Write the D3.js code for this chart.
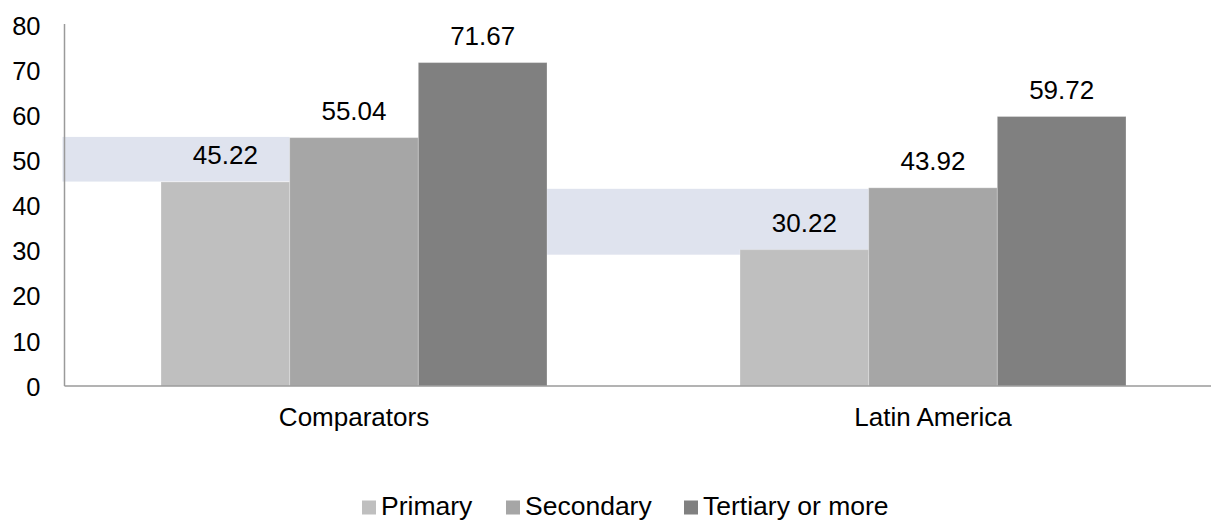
<!DOCTYPE html>
<html>
<head>
<meta charset="utf-8">
<script src="https://cdn.jsdelivr.net/npm/d3@7"></script>
<style>
  html, body { margin: 0; padding: 0; background: #fff; }
  svg text { font-family: "Liberation Sans", Arial, sans-serif; fill: #000; }
</style>
</head>
<body>
<svg id="chart" width="1211" height="521"></svg>
<script>
// Data
const categories = ["Comparators", "Latin America"];
const seriesNames = ["Primary", "Secondary", "Tertiary or more"];
const primary = [45.22, 30.22];
const secondary = [55.04, 43.92];
const tertiary = [71.67, 59.72];
// shaded range behind each group
const bandLow = [45.3, 29.1];
const bandHigh = [55.2, 43.7];
const yTicks = [0, 10, 20, 30, 40, 50, 60, 70, 80];

const seriesValues = [primary, secondary, tertiary];
const colors = ["#bfbfbf", "#a6a6a6", "#808080"];

const svg = d3.select("#chart");
const W = 1211, H = 521;
const plotLeft = 64.5, plotRight = 1222.5, plotTop = 25, plotBottom = 386;

const y = d3.scaleLinear().domain([0, 80]).range([plotBottom, plotTop]);
const x0 = d3.scaleBand().domain(categories).range([plotLeft, plotRight]);
const bw = x0.bandwidth();
const x1 = d3.scaleBand().domain(seriesNames).range([bw / 6, bw * 5 / 6]);

// shaded bands: from the previous group's last bar (or axis) to the secondary bar
const bandG = svg.append("g");
categories.forEach((c, i) => {
  const startX = i === 0 ? plotLeft - 2 : x0(categories[i - 1]) + x1(seriesNames[2]) + x1.bandwidth();
  const endX = x0(c) + x1(seriesNames[1]);
  bandG.append("rect")
    .attr("x", startX)
    .attr("width", endX - startX)
    .attr("y", y(bandHigh[i]))
    .attr("height", y(bandLow[i]) - y(bandHigh[i]))
    .attr("fill", "#dfe3ee");
});

// bars
const barG = svg.append("g");
seriesNames.forEach((s, si) => {
  barG.selectAll(null)
    .data(categories.map((c, i) => ({ c, v: seriesValues[si][i] })))
    .enter().append("rect")
    .attr("x", d => x0(d.c) + x1(s))
    .attr("width", x1.bandwidth())
    .attr("y", d => y(d.v))
    .attr("height", d => y(0) - y(d.v))
    .attr("fill", colors[si])
    .attr("stroke", "rgba(255,255,255,0.25)")
    .attr("stroke-width", 1);
});

// value labels
const labG = svg.append("g");
seriesNames.forEach((s, si) => {
  labG.selectAll(null)
    .data(categories.map((c, i) => ({ c, v: seriesValues[si][i] })))
    .enter().append("text")
    .attr("x", d => x0(d.c) + x1(s) + x1.bandwidth() / 2)
    .attr("y", d => y(d.v) - 17.5)
    .attr("text-anchor", "middle")
    .attr("font-size", 26)
    .text(d => d.v.toFixed(2));
});

// y axis
const yAxis = d3.axisLeft(y).tickValues(yTicks).tickSize(0).tickPadding(24);
const yg = svg.append("g").attr("transform", `translate(${plotLeft},0)`).call(yAxis);
yg.select(".domain").attr("stroke", "#9a9a9a").attr("stroke-width", 1.5)
  .attr("d", `M0,${plotTop - 1}V${plotBottom}`);
yg.selectAll(".tick text")
  .attr("font-size", 25.5)
  .attr("font-family", "Liberation Sans, Arial, sans-serif")
  .attr("fill", "#000")
  .attr("dy", "0.36em");

// x axis
const xAxis = d3.axisBottom(x0).tickSize(0).tickPadding(22);
const xg = svg.append("g").attr("transform", `translate(0,${plotBottom})`).call(xAxis);
xg.select(".domain").attr("stroke", "#9a9a9a").attr("stroke-width", 1.5)
  .attr("d", `M${plotLeft},0H${W}`);
xg.selectAll(".tick text")
  .attr("font-size", 26)
  .attr("font-family", "Liberation Sans, Arial, sans-serif")
  .attr("fill", "#000");

// legend
const legendItems = [
  { name: "Primary", x: 362 },
  { name: "Secondary", x: 506 },
  { name: "Tertiary or more", x: 684 }
];
const legG = svg.append("g");
legendItems.forEach((it, i) => {
  legG.append("rect")
    .attr("x", it.x).attr("y", 500.5)
    .attr("width", 14).attr("height", 14)
    .attr("fill", colors[i]);
  legG.append("text")
    .attr("x", it.x + 19).attr("y", 514.5)
    .attr("font-size", 26.5)
    .text(it.name);
});
</script>
</body>
</html>
